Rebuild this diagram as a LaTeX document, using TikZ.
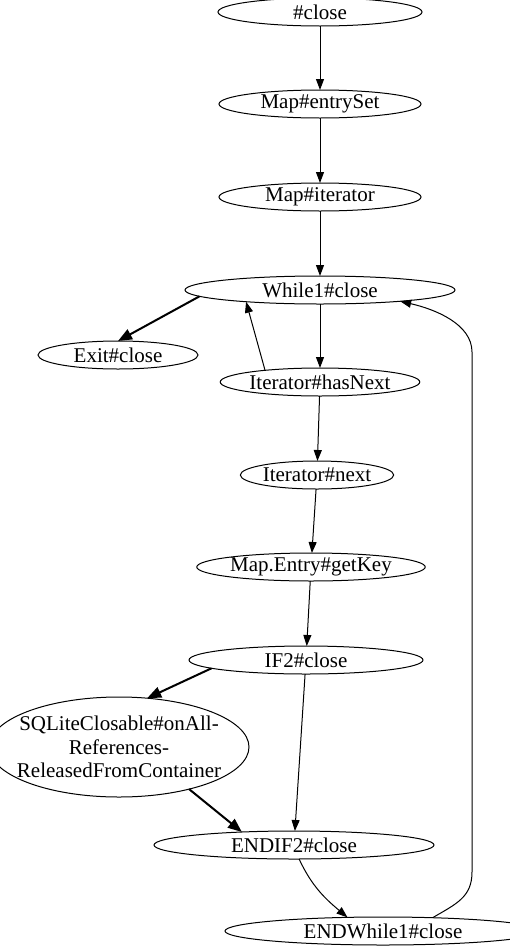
\documentclass[tikz,border=0pt]{standalone}
\usepackage{fontspec}
\setmainfont{Liberation Serif}
\usetikzlibrary{shapes.geometric, arrows.meta, positioning}
\tikzset{
  state/.style={ellipse, draw, line width=1pt, inner sep=0pt, outer sep=0pt, minimum height=28pt, text centered},
  arrow/.style={-{Triangle[length=11pt, width=8pt]}, line width=1pt},
  boldarrow/.style={-{Triangle[length=14pt, width=11pt]}, line width=2pt}
}

\begin{document}
\begin{tikzpicture}[x=1pt, y=1pt, every node/.style={font=\fontsize{21pt}{23.5pt}\selectfont}]
  \useasboundingbox (0,0) rectangle (510,-948);
  % Nodes
  \node[state, minimum width=204pt] (close) at (320,-12) {\#close};
  \node[state, minimum width=202pt, below=64pt of close] (entryset) {Map\#entrySet};
  \node[state, minimum width=202pt, below=65pt of entryset] (iterator) {Map\#iterator};
  \node[state, minimum width=270pt, below=65pt of iterator] (while1) {While1\#close};
  \node[state, minimum width=160pt, below=37pt of while1, xshift=-202pt] (exit) {Exit\#close};
  \node[state, minimum width=174pt, below=64pt of while1] (hasnext) {Iterator\#hasNext};
  \node[state, minimum width=136pt, below=65pt of hasnext, xshift=-3pt] (next) {Iterator\#next};
  \node[state, minimum width=194pt, below=64pt of next, xshift=-6pt] (getkey) {Map.Entry\#getKey};
  \node[state, minimum width=234pt, below=65pt of getkey, xshift=-5pt] (if2) {IF2\#close};
  \node[state, minimum width=260pt, minimum height=100pt, inner xsep=-12pt, align=center,
        below=23pt of if2, xshift=-187pt] (sqlite)
        {SQLiteClosable\#onAll-\\References-\\ReleasedFromContainer};
  \node[state, minimum width=280pt, below=157pt of if2, xshift=-12pt] (endif2) {ENDIF2\#close};
  \node[state, minimum width=316pt, below=58pt of endif2, xshift=89pt] (endwhile1) {ENDWhile1\#close};
  \coordinate (loopdown) at (472,-872);
  \coordinate (loopup) at (472,-352);

  % Connections
  \draw[arrow] (close) -- (entryset);
  \draw[arrow] (entryset) -- (iterator);
  \draw[arrow] (iterator) -- (while1);
  \draw[boldarrow] (while1.183) -- (exit.north);
  \draw[arrow] (while1) -- (hasnext);
  \draw[arrow] (hasnext.168) -- (while1.189);
  \draw[arrow] (hasnext) -- (next);
  \draw[arrow] (next) -- (getkey);
  \draw[arrow] (getkey) -- (if2);
  \draw[boldarrow] (if2.185) -- (sqlite.60);
  \draw[arrow] (if2) -- (endif2);
  \draw[boldarrow] (sqlite.329) -- (endif2.166);
  \draw[arrow] (endif2.-70) to[out=-65, in=140] (endwhile1.159);
  \draw[arrow] (endwhile1.15) .. controls +(24,14) and +(0,-25) .. (loopdown)
    -- (loopup) .. controls +(0,28) and +(35,-8) .. (while1.-8);
\end{tikzpicture}
\end{document}
